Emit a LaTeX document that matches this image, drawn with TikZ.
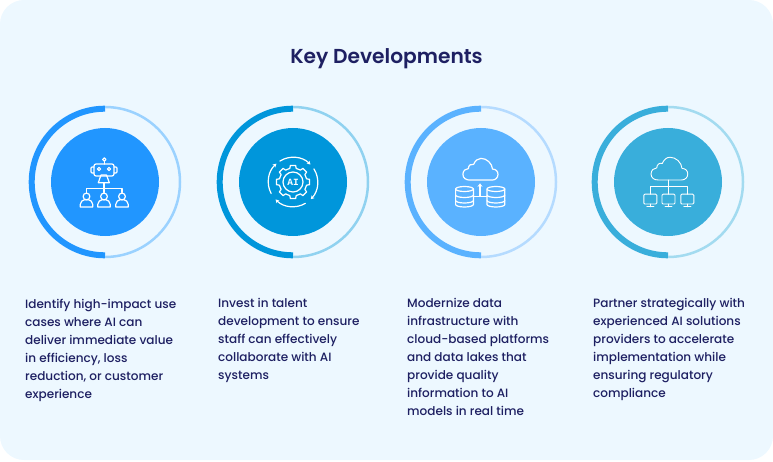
\documentclass[tikz,border=0pt]{standalone}
\usepackage{fontspec}
\setmainfont{Poppins Medium}[BoldFont={Poppins SemiBold}]
\newfontfamily\aifont{Liberation Mono}
\usetikzlibrary{arrows.meta}
\definecolor{panelbg}{HTML}{EDF8FF}
\definecolor{inktext}{HTML}{1E2062}
\definecolor{blueA}{HTML}{2196FF}
\definecolor{blueAl}{HTML}{9BD2FF}
\definecolor{blueB}{HTML}{0096DB}
\definecolor{blueBl}{HTML}{90D2F0}
\definecolor{blueC}{HTML}{5AB2FF}
\definecolor{blueCl}{HTML}{B5DBFF}
\definecolor{blueD}{HTML}{39AEDB}
\definecolor{blueDl}{HTML}{A3DBF0}
\newcommand{\cloudpath}{(-11,2) -- (10,2) .. controls (13.5,2) and (15.7,4.5) .. (15.7,7.5) .. controls (15.7,10.5) and (13.5,12.5) .. (10.5,12.5) .. controls (10,18) and (5,22.7) .. (-0.5,22.7) .. controls (-3.5,22.7) and (-6,20.5) .. (-7.5,17) .. controls (-10,18) and (-12.5,16) .. (-12.5,13) .. controls (-15,13) and (-17.7,11) .. (-17.7,7.5) .. controls (-17.7,4) and (-15,2) .. (-11,2) -- cycle}
\tikzset{
  disc/.style={circle,minimum size=108pt,inner sep=0pt},
  ringthick/.style={line width=6pt},
  ringthin/.style={line width=2.5pt},
  iconline/.style={draw=white,line width=1.2pt,line join=round,line cap=round},
  bodytext/.style={anchor=north west,align=left,inner sep=0pt,text=inktext,font=\fontsize{12.05}{18}\selectfont},
  iconperson/.pic={
    \draw[iconline] (0,0) circle[radius=3.4pt];
    \draw[iconline] (-6.3,-10.5) -- (6.3,-10.5) -- (6.3,-8) .. controls (6.3,-5) and (3.5,-3.5) .. (2,-3.3) -- (-2,-3.3) .. controls (-3.5,-3.5) and (-6.3,-5) .. (-6.3,-8) -- cycle;
  },
  iconrobot/.pic={
    % antenna, head, ears
    \draw[iconline] (-0.7,22.5) circle[radius=1.7pt];
    \draw[iconline] (-0.7,20.8) -- (-0.7,18);
    \draw[iconline,rounded corners=2pt] (-11,6) rectangle (9,18);
    \draw[iconline,rounded corners=1pt] (-11,15) -- (-14,15) -- (-14,9) -- (-11,9);
    \draw[iconline,rounded corners=1pt] (9,15) -- (12,15) -- (12,9) -- (9,9);
    \draw[iconline] (-6,13) circle[radius=1.6pt];
    \draw[iconline] (4,13) circle[radius=1.6pt];
    % mouth
    \draw[iconline] (-4,7) -- (1.5,7) -- (4.3,-0.7) -- (-6.7,-0.7) -- cycle;
    % tree and people
    \draw[iconline] (-1,-0.7) -- (-1,-10.5);
    \draw[iconline] (-18.5,-10.5) -- (-18.5,-6.3) -- (17,-6.3) -- (17,-10.5);
    \pic at (-18.5,-14.5) {iconperson};
    \pic at (-1,-14.5) {iconperson};
    \pic at (17,-14.5) {iconperson};
  },
  icongear/.pic={
    \draw[iconline] (0,0) circle[radius=10pt];
    \draw[iconline] (77:14pt) \foreach \a in {90,135,...,405} { -- (\a-13:14pt) -- (\a-9:16.8pt) -- (\a+9:16.8pt) -- (\a+13:14pt) } -- cycle;
    \draw[iconline,-{Stealth[length=3.5pt,width=4pt]}] (122:24.7pt) arc[start angle=122,end angle=45,radius=24.7pt];
    \draw[iconline,-{Stealth[length=3.5pt,width=4pt]}] (32:24.7pt) arc[start angle=32,end angle=-44,radius=24.7pt];
    \draw[iconline,-{Stealth[length=3.5pt,width=4pt]}] (-60:24.7pt) arc[start angle=-60,end angle=-135,radius=24.7pt];
    \draw[iconline,-{Stealth[length=3.5pt,width=4pt]}] (208:24.7pt) arc[start angle=208,end angle=132,radius=24.7pt];
    \node[text=white,inner sep=0pt,font=\aifont\bfseries\fontsize{9.5}{10}\selectfont] (ailabel) at (0,0) {AI};
  },
  icondrum/.pic={
    \draw[iconline] (0,-5.5) ellipse[x radius=8.9pt,y radius=2.5pt];
    \draw[iconline] (-8.9,-5.5) -- (-8.9,-21) arc[start angle=180,end angle=360,x radius=8.9pt,y radius=2.5pt] -- (8.9,-5.5);
    \draw[iconline] (-8.9,-11.5) arc[start angle=180,end angle=360,x radius=8.9pt,y radius=2.5pt];
    \draw[iconline] (-8.9,-17) arc[start angle=180,end angle=360,x radius=8.9pt,y radius=2.5pt];
  },
  iconstore/.pic={
    \draw[iconline,shift={(0.5,-0.2)},scale=1.05] \cloudpath;
    \pic at (-16.5,-1.5) {icondrum};
    \pic at (14.9,-1.5) {icondrum};
    \draw[iconline] (-7.6,-14.5) -- (6,-14.5);
    \draw[iconline,-{Stealth[length=3.5pt,width=5pt]}] (-1,-14.5) -- (-1,-1.3);
  },
  iconscreen/.pic={
    \draw[iconline,line width=0.9pt,rounded corners=1pt] (-6.5,-12.2) rectangle (6.5,-22);
    \draw[iconline,line width=0.9pt] (0,-22) -- (0,-24.8) (-3.5,-24.8) -- (3.5,-24.8);
  },
  iconnetwork/.pic={
    \draw[iconline,line width=0.9pt,shift={(2.5,-0.2)},scale=1.1] \cloudpath;
    \draw[iconline,line width=0.9pt] (0.7,2) -- (0.7,-12.2);
    \draw[iconline,line width=0.9pt] (-17.7,-12.2) -- (-17.7,-4.7) -- (19.3,-4.7) -- (19.3,-12.2);
    \pic at (-17.7,0) {iconscreen};
    \pic at (0.5,0) {iconscreen};
    \pic at (19.3,0) {iconscreen};
  },
}
\begin{document}
\begin{tikzpicture}[x=1pt,y=1pt]
\useasboundingbox (0,0) rectangle (773,461);
%
% background panel
\fill[panelbg,rounded corners=24pt] (0,1) rectangle (773,461);
\node[text=inktext,font=\bfseries\fontsize{20.2}{24}\selectfont] (title) at (386.5,402.5) {Key Developments};
%
% discs
\node[disc,fill=blueA] (disc1) at (105,279) {};
\node[disc,fill=blueB] (disc2) at (293,279) {};
\node[disc,fill=blueC] (disc3) at (481,279) {};
\node[disc,fill=blueD] (disc4) at (668,279) {};
%
% rings, thick half on the left
\draw[ringthin,blueAl] (disc1.center) ++(0,75) arc[start angle=90,end angle=-90,radius=75pt];
\draw[ringthick,blueA] (disc1.center) ++(0,73.3) arc[start angle=90,end angle=270,radius=73.3pt];
\draw[ringthin,blueBl] (disc2.center) ++(0,75) arc[start angle=90,end angle=-90,radius=75pt];
\draw[ringthick,blueB] (disc2.center) ++(0,73.3) arc[start angle=90,end angle=270,radius=73.3pt];
\draw[ringthin,blueCl] (disc3.center) ++(0,75) arc[start angle=90,end angle=-90,radius=75pt];
\draw[ringthick,blueC] (disc3.center) ++(0,73.3) arc[start angle=90,end angle=270,radius=73.3pt];
\draw[ringthin,blueDl] (disc4.center) ++(0,75) arc[start angle=90,end angle=-90,radius=75pt];
\draw[ringthick,blueD] (disc4.center) ++(0,73.3) arc[start angle=90,end angle=270,radius=73.3pt];
%
% icons
\pic at (disc1.center) {iconrobot};
\pic at (disc2.center) {icongear};
\pic at (disc3.center) {iconstore};
\pic at (disc4.center) {iconnetwork};
%
% captions
\node[bodytext] (text1) at (25,162.5) {Identify high-impact use\\cases where AI can\\deliver immediate value\\in efficiency, loss\\reduction, or customer\\experience};
\node[bodytext] (text2) at (218,162.5) {Invest in talent\\development to ensure\\staff can effectively\\collaborate with AI\\systems};
\node[bodytext] (text3) at (407,162.5) {Modernize data\\infrastructure with\\cloud-based platforms\\and data lakes that\\provide quality\\information to AI\\models in real time};
\node[bodytext] (text4) at (593,162.5) {Partner strategically with\\experienced AI solutions\\providers to accelerate\\implementation while\\ensuring regulatory\\compliance};
%
\end{tikzpicture}
\end{document}
